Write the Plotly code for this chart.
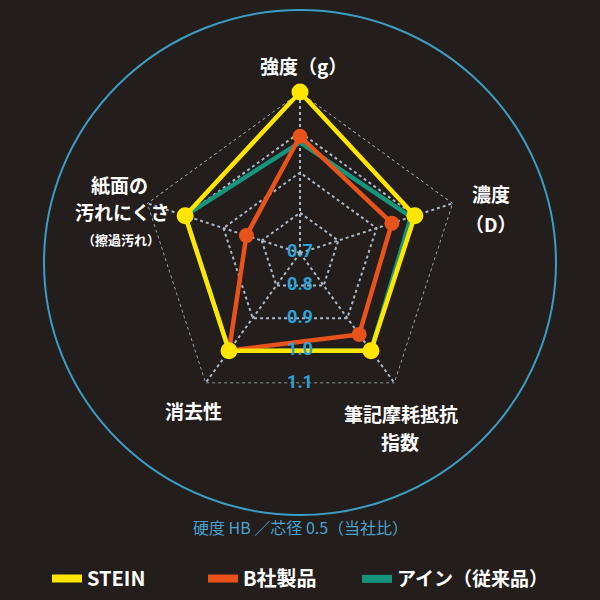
import math
import plotly.graph_objects as go

# ---------------- data ----------------
categories = ["強度（g）", "濃度（D）", "筆記摩耗抵抗指数", "消去性", "紙面の汚れにくさ（擦過汚れ）"]
series_names = ["STEIN", "B社製品", "アイン（従来品）"]
stein = [1.10, 1.00, 1.00, 1.00, 1.00]
b_sha = [0.99, 0.94, 0.95, 1.00, 0.84]
ain = [0.975, 0.99, 1.00, 1.00, 1.00]
tick_vals = [0.7, 0.8, 0.9, 1.0, 1.1]
tick_text = ["0.7", "0.8", "0.9", "1.0", "1.1"]
subtitle = "硬度 HB ／芯径 0.5（当社比）"

# ---------------- style ----------------
BG = "#231d1b"
YELLOW = "#ffe500"
ORANGE = "#e8531c"
TEAL = "#17957c"
GRID = "#a9b8c8"
BLUE = "#2ea3d8"
CIRCLE = "#3b9cc4"
JP = "Noto Sans CJK JP"

W = H = 600
CX, CY = 300, 253        # centre of radar (px)
R = 161                  # radius of outer pentagon (px)
R2 = R * math.cos(math.radians(36))   # edge-midpoint distance for labels


def closed(v):
    return list(v) + [v[0]]


theta = closed(categories)
fig = go.Figure()

# outer grid pentagon at the top tick value
fig.add_trace(go.Scatterpolar(r=closed([tick_vals[-1]] * len(categories)), theta=theta,
                              mode="lines", line=dict(color=GRID, width=1.6, dash="dot"),
                              showlegend=False, cliponaxis=False, hoverinfo="skip",
                              subplot="polar"))

# lines (bottom to top: teal, orange, yellow)
for vals, col, w in [(ain, TEAL, 4.5), (b_sha, ORANGE, 4.5), (stein, YELLOW, 4.5)]:
    fig.add_trace(go.Scatterpolar(r=closed(vals), theta=theta, mode="lines",
                                  line=dict(color=col, width=w),
                                  showlegend=False, cliponaxis=False,
                                  hoverinfo="skip", subplot="polar"))
# markers
for vals, col, s in [(b_sha, ORANGE, 15), (stein, YELLOW, 17)]:
    fig.add_trace(go.Scatterpolar(r=vals, theta=categories, mode="markers",
                                  marker=dict(color=col, size=s),
                                  showlegend=False, cliponaxis=False,
                                  hoverinfo="skip", subplot="polar"))

# radial value labels, placed on edge midpoints via a scaled overlay polar
fig.add_trace(go.Scatterpolar(r=tick_vals, theta=[0] * len(tick_vals), mode="text",
                              text=tick_text,
                              textfont=dict(color=BLUE, size=18, family="Roboto", weight="bold"),
                              showlegend=False, cliponaxis=False, hoverinfo="skip",
                              subplot="polar2"))

# legend entries, one legend each so they can be spaced like the reference
legend_ids = ["legend", "legend2", "legend3"]
for name, col, lid in zip(series_names, [YELLOW, ORANGE, TEAL], legend_ids):
    fig.add_trace(go.Scatterpolar(r=[None], theta=[None], mode="lines", name=name,
                                  line=dict(color=col, width=8), subplot="polar",
                                  legend=lid))


def dom(cx, cy, r):
    return dict(x=[(cx - r) / W, (cx + r) / W], y=[1 - (cy + r) / H, 1 - (cy - r) / H])


def leg(xpx, size=19):
    return dict(orientation="h", x=xpx / W, xanchor="left", y=2 / H, yanchor="bottom",
                font=dict(color="white", size=size, family=JP, weight="bold"),
                itemwidth=30, bgcolor="rgba(0,0,0,0)")


fig.update_layout(
    width=W, height=H,
    margin=dict(l=0, r=0, t=0, b=0),
    paper_bgcolor=BG, plot_bgcolor=BG,
    polar=dict(
        domain=dom(CX, CY, R),
        bgcolor="rgba(0,0,0,0)",
        gridshape="linear",
        radialaxis=dict(range=[0.7, 1.1], tickvals=tick_vals[1:], showticklabels=False,
                        ticks="", showline=False, gridcolor=GRID, griddash="dot", gridwidth=1.6),
        angularaxis=dict(rotation=90, direction="clockwise", showticklabels=False, ticks="",
                         showline=False, gridcolor=GRID, griddash="dot", gridwidth=1.6),
    ),
    polar2=dict(
        domain=dom(CX, CY, R2),
        bgcolor="rgba(0,0,0,0)",
        radialaxis=dict(range=[0.7, 1.1], visible=False),
        angularaxis=dict(rotation=-90, visible=False),
    ),
    legend=leg(47, 20),
    legend2=leg(203, 20),
    legend3=leg(357, 19),
    showlegend=True,
)

# outer decorative circle
fig.add_shape(type="circle", xref="paper", yref="paper",
              x0=44 / W, x1=556 / W, y0=1 - 515 / H, y1=1 - 10 / H,
              line=dict(color=CIRCLE, width=2), layer="below")

# category labels (split over lines as in the reference)
label_lines = [
    ("強度（g）", 303, 65, 19),
    ("濃度", 491, 193, 19),
    ("（D）", 491, 224, 19),
    ("紙面の", 119, 184, 19),
    ("汚れにくさ", 122, 212, 19),
    ("（擦過汚れ）", 121, 239, 13),
    ("消去性", 193, 410, 19),
    ("筆記摩耗抵抗", 401, 413, 19),
    ("指数", 400, 441, 19),
]
for txt, x, y, s in label_lines:
    fig.add_annotation(text=txt, x=x / W, y=1 - y / H, xref="paper", yref="paper",
                       showarrow=False, xanchor="center", yanchor="middle",
                       font=dict(color="white", size=s, family=JP, weight="bold"))

fig.add_annotation(text=subtitle, x=0.5, y=1 - 527 / H, xref="paper", yref="paper",
                   showarrow=False, xanchor="center", yanchor="middle",
                   font=dict(color="#4aa3cf", size=16, family=JP))

fig.write_html("out.html", config={"displayModeBar": False},
               post_script="document.body.style.margin='0';document.body.style.background='%s';" % BG)
